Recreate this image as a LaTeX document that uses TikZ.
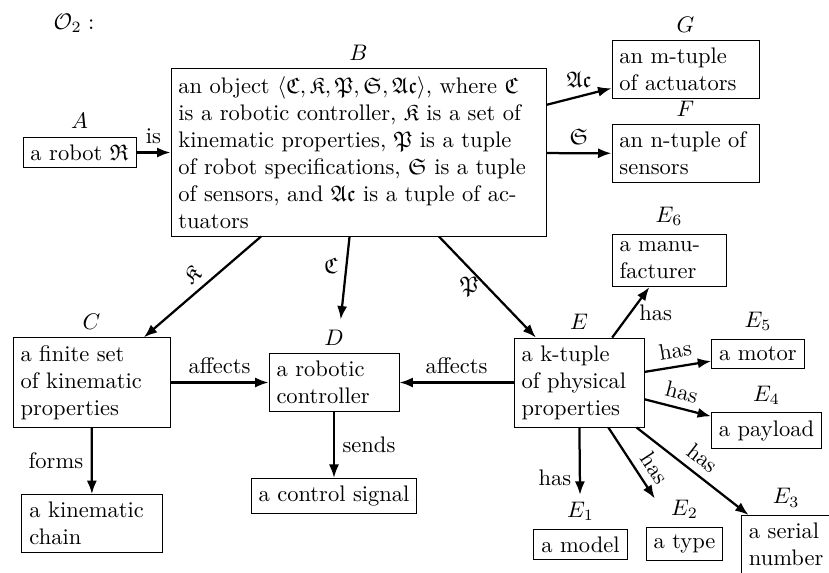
\documentclass[tikz,border=0pt]{standalone}
\usepackage{amsmath, amssymb}
\usepackage{tikz}
\usetikzlibrary{arrows.meta, positioning}
\tikzset{
  box/.style  ={draw, rectangle, align=left, inner sep=0.3333em, line width=0.4pt},
  lbl/.style  ={inner sep=0.3333em},
  arr/.style  ={-{Latex[length=6pt, width=4.5pt]}, line width=1pt},  % plain edge
  skip/.style ={shorten >=15pt},                                     % stop above the letter
}

\begin{document}
\begin{tikzpicture}[x=0.4444pt, y=-0.4444pt, node distance=0pt]
  \useasboundingbox (0,0) rectangle (829,572);
  \node (title) at (74,23) {$\mathcal{O}_2:$};
  % top row
  \node[box] (A) at (79.5,152.5) {a robot $\mathfrak{R}$};
  \node[box, text width=160pt] (B) at (358.5,152.5)
    {an object $\langle\mathfrak{C},\mathfrak{K},\mathfrak{P},\mathfrak{S},\mathfrak{Ac}\rangle$, where $\mathfrak{C}$\\
     is a robotic controller, $\mathfrak{K}$ is a set of\\
     kinematic properties, $\mathfrak{P}$ is a tuple\\
     of robot specifications, $\mathfrak{S}$ is a tuple\\
     of sensors, and $\mathfrak{Ac}$ is a tuple of ac-\\
     tuators};
  \node[box, text width=58.7pt] (G) at (685.5,69.5) {an m-tuple\\ of actuators};
  \node[box, text width=58.7pt] (F) at (685.5,153.5) {an n-tuple of\\ sensors};
  % middle row
  \node[box, text width=63.1pt] (C) at (91.5,382.5) {a finite set\\ of kinematic\\ properties};
  \node[box, text width=51.1pt] (D) at (334,382.5) {a robotic\\ controller};
  \node[box, text width=51.1pt] (E) at (579,382.5) {a k-tuple\\ of physical\\ properties};
  \node[box, text width=55.6pt] (chain) at (92,523.5) {a kinematic\\ chain};
  \node[box] (signal) at (334,496) {a control signal};
  % parts of E
  \node[box, text width=44pt] (E6) at (669,260.5) {a manu-\\ facturer};
  \node[box] (E5) at (758,353.5) {a motor};
  \node[box] (E4) at (766.5,430.5) {a payload};
  \node[box, anchor=north west] (E3) at (741,515) {a serial\\ number};
  \node[box] (E1) at (580.5,544.5) {a model};
  \node[box] (E2) at (684.5,544) {a type};
  % letters
  \node[lbl, above=of A] (Al) {$A$};
  \node[lbl, above=of B] (Bl) {$B$};
  \node[lbl, above=of G] (Gl) {$G$};
  \node[lbl, above=of F] (Fl) {$F$};
  \node[lbl, above=of C] (Cl) {$C$};
  \node[lbl, above=of D] (Dl) {$D$};
  \node[lbl, above=of E] (El) {$E$};
  \node[lbl, above=of E6] (E6l) {$E_6$};
  \node[lbl, above=of E5] (E5l) {$E_5$};
  \node[lbl, above=of E4] (E4l) {$E_4$};
  \node[lbl, above=of E3] (E3l) {$E_3$};
  \node[lbl, above=of E1] (E1l) {$E_1$};
  \node[lbl, above=of E2] (E2l) {$E_2$};
  % edges
  \draw[arr] (A) -- node[above] {is} (B);
  \draw[arr] (B) -- node[above] {$\mathfrak{Ac}$} (G);
  \draw[arr] (B) -- node[above] {$\mathfrak{S}$} (F);
  \draw[arr] (B) -- node[above, sloped] {$\mathfrak{K}$} (C);
  \draw[arr, skip] (B) -- node[left, pos=0.25] {$\mathfrak{C}$} (D);
  \draw[arr] (B) -- node[left] {$\mathfrak{P}$} (E);
  \draw[arr] (C) -- node[above] {affects} (D);
  \draw[arr] (E) -- node[above] {affects} (D);
  \draw[arr] (C) -- node[left] {forms} (chain);
  \draw[arr] (D) -- node[right] {sends} (signal);
  \draw[arr] (E) -- node[right] {has} (E6);
  \draw[arr] (E) -- node[above, sloped] {has} (E5);
  \draw[arr] (E) -- node[above, sloped] {has} (E4);
  \draw[arr] (E) -- node[above, sloped] {has} (E3);
  \draw[arr, skip] (E) -- node[above, sloped] {has} (E2);
  \draw[arr, skip] (E) -- node[left] {has} (E1);
\end{tikzpicture}
\end{document}
